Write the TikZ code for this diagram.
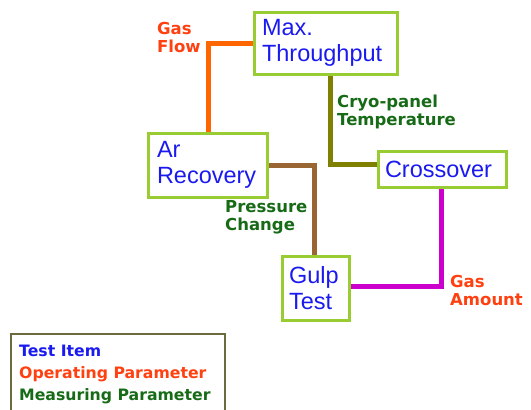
\documentclass[tikz,border=0pt]{standalone}
\usepackage{fontspec}
\setmainfont{Liberation Sans}
\newfontfamily\lblfont{DejaVu Sans}
\definecolor{boxgreen}{HTML}{99CC33}
\definecolor{itemblue}{HTML}{1A1AF0}
\definecolor{oprred}{HTML}{FF4010}
\definecolor{measgreen}{HTML}{176B17}
\definecolor{lorange}{HTML}{FF6600}
\definecolor{lolive}{HTML}{7F7F00}
\definecolor{lbrown}{HTML}{996633}
\definecolor{lmagenta}{HTML}{CC00CC}
\definecolor{legframe}{HTML}{6B6B3F}
\begin{document}
\begin{tikzpicture}[x=1pt,y=-1pt,
  item/.style={draw=boxgreen,line width=3pt,fill=white,rectangle,inner xsep=0pt,inner ysep=0pt,
    align=left,text=itemblue,font=\fontsize{23.5}{26.5}\selectfont},
  conn/.style={line width=5pt},
  lbl/.style={inner sep=0pt,anchor=base west,align=left,font=\lblfont\bfseries\fontsize{16.5}{17.5}\selectfont},
  opr/.style={lbl,text=oprred},
  meas/.style={lbl,text=measgreen},
  legtext/.style={lbl,font=\lblfont\bfseries\fontsize{15.7}{17}\selectfont}]
\useasboundingbox (0,0) rectangle (531,410);
% connectors (drawn first, boxes on top)
\coordinate (maxc) at (325.5,43);
\coordinate (arc) at (207.5,165);
\coordinate (crc) at (442,169);
\coordinate (guc) at (315.5,288);
\draw[conn,lorange] (254,43) coordinate (mw) -| (208,133) coordinate (arn);
\draw[conn,lolive] (330,74) coordinate (ms) |- (378,164) coordinate (cw);
\draw[conn,lbrown] (267,165) coordinate (are) -| (314,256) coordinate (gn);
\draw[conn,lmagenta] (349,286) coordinate (ge) -| (441,187) coordinate (cs);
% boxes
\node[item,minimum width=143pt,minimum height=62pt,text width=127pt] (max) at (maxc) {Max.\\Throughput};
\node[item,minimum width=119pt,minimum height=64pt,text width=101pt] (ar) at (arc) {Ar\\Recovery};
\node[item,minimum width=128pt,minimum height=36pt,text width=114pt] (cross) at (crc) {Crossover};
\node[item,minimum width=67pt,minimum height=64pt,text width=53pt] (gulp) at (guc) {Gulp\\Test};
% labels
\node[opr] (gasflow) at (157,52) {Gas\\Flow};
\node[meas] (cryo) at (337,125) {Cryo-panel\\Temperature};
\node[meas] (press) at (225,230) {Pressure\\Change};
\node[opr] (gasamt) at (450,305) {Gas\\Amount};
% legend
\draw[legframe,line width=2pt] (11,413) -- (11,334) -- (225,334) -- (225,413);
\node[legtext,text=itemblue] (leg1) at (19,356) {Test Item};
\node[legtext,text=oprred] (leg2) at (19,378) {Operating Parameter};
\node[legtext,text=measgreen] (leg3) at (19,400) {Measuring Parameter};
\end{tikzpicture}
\end{document}
